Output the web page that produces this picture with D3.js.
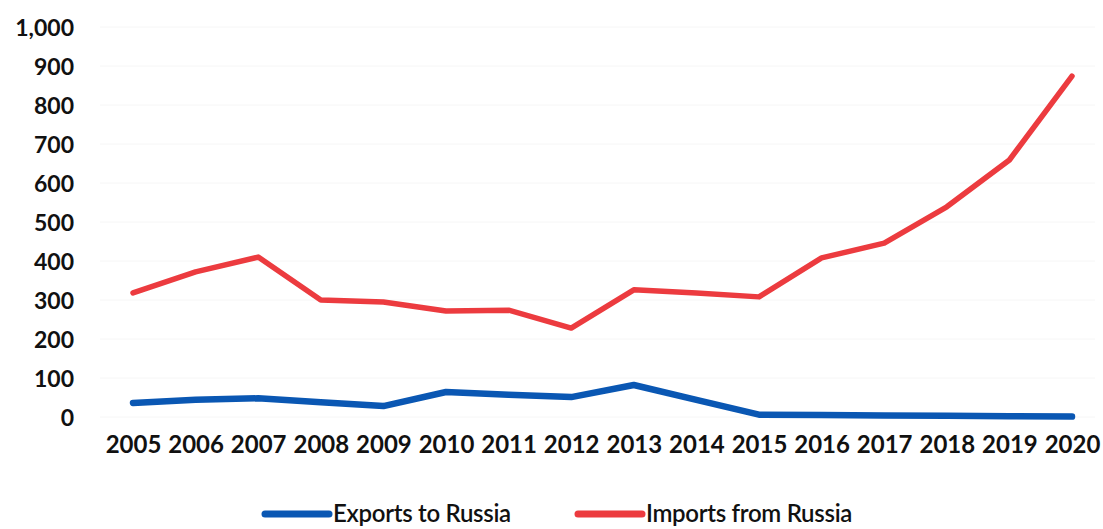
<!DOCTYPE html>
<html>
<head>
  <meta charset="utf-8">
  <script src="https://cdnjs.cloudflare.com/ajax/libs/d3/7.8.5/d3.min.js"></script>
  <style>
    body { margin: 0; background: #fff; }
    text { font-family: Lato, "Open Sans", sans-serif; font-weight: 700; fill: #111; }
  </style>
</head>
<body>
<svg width="1103" height="529"></svg>
<script>
var years   = ["2005","2006","2007","2008","2009","2010","2011","2012",
               "2013","2014","2015","2016","2017","2018","2019","2020"];
var exports = [36, 44, 48, 38, 28, 64, 57, 51, 82, 44, 6, 5, 4, 3, 2, 1];
var imports = [318, 372, 410, 300, 295, 272, 274, 228, 326, 318, 308, 408, 446, 539, 659, 874];
var yTicks  = [0, 100, 200, 300, 400, 500, 600, 700, 800, 900, 1000];
var seriesNames  = ["Exports to Russia", "Imports from Russia"];
var seriesColors = ["#0a57b3", "#ec3b3f"];

var svg = d3.select("svg");

var x = d3.scalePoint()
          .domain(years)
          .range([133, 1072]);
var y = d3.scaleLinear()
          .domain([0, 1000])
          .range([417, 27]);

// faint gridlines
svg.append("g")
  .selectAll("line")
  .data(yTicks)
  .enter().append("line")
    .attr("x1", 100).attr("x2", 1095)
    .attr("y1", d => y(d)).attr("y2", d => y(d))
    .attr("stroke", "#f6f6f6");

// y labels
var yAxis = svg.append("g")
  .attr("transform", "translate(82,0)")
  .call(d3.axisLeft(y).tickValues(yTicks).tickFormat(d3.format(",")).tickSize(0).tickPadding(8));
yAxis.select(".domain").remove();
yAxis.selectAll("text").style("font-size", "23px").attr("dy", "0.35em");

// x labels
var xAxis = svg.append("g")
  .attr("transform", "translate(0,445)")
  .call(d3.axisBottom(x).tickSize(0).tickPadding(0));
xAxis.select(".domain").remove();
xAxis.selectAll("text").style("font-size", "24px").attr("dy", "0.35em");

var line = d3.line()
  .x((d, i) => x(years[i]))
  .y(d => y(d));

[exports, imports].forEach(function (vals, k) {
  svg.append("path")
    .datum(vals)
    .attr("d", line)
    .attr("fill", "none")
    .attr("stroke", seriesColors[k])
    .attr("stroke-width", k === 0 ? 6.5 : 5.5)
    .attr("stroke-linejoin", "round")
    .attr("stroke-linecap", "round");
});

// legend
var legendX = [265, 578];
seriesNames.forEach(function (name, k) {
  var g = svg.append("g").attr("transform", "translate(" + legendX[k] + ",514)");
  g.append("line")
    .attr("x1", 0).attr("x2", 64)
    .attr("stroke", seriesColors[k])
    .attr("stroke-width", 7)
    .attr("stroke-linecap", "round");
  g.append("text")
    .attr("x", 68)
    .attr("dy", "0.35em")
    .style("font-size", "24px")
    .style("font-weight", 600)
    .style("letter-spacing", "-0.3px")
    .text(name);
});
</script>
</body>
</html>
